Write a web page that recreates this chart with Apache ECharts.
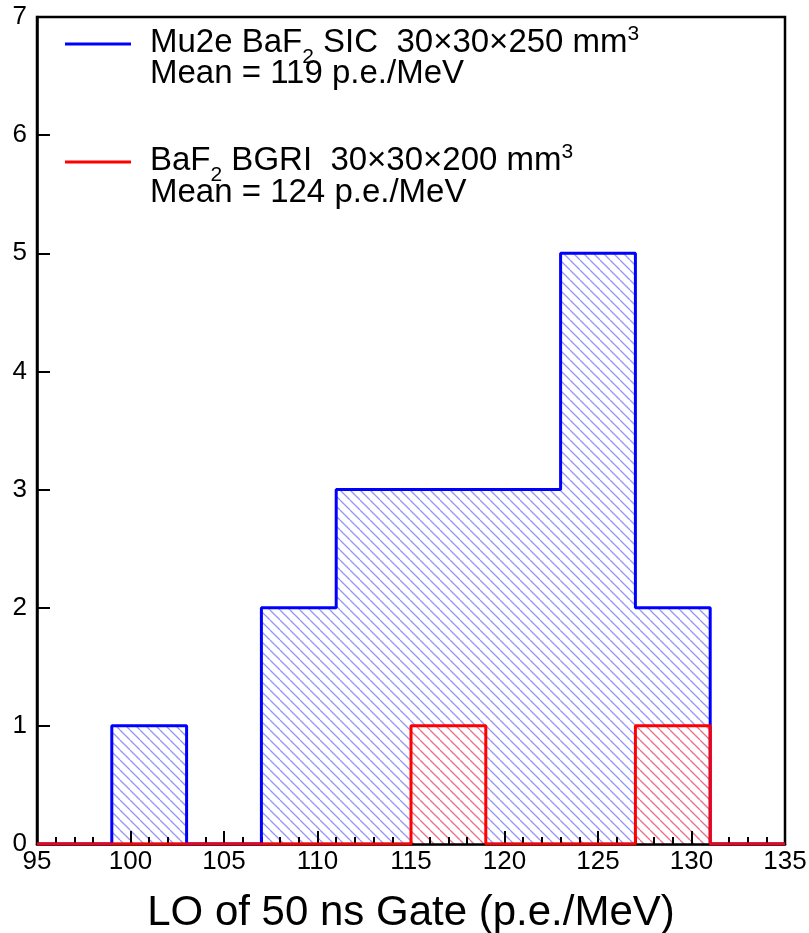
<!DOCTYPE html>
<html>
<head>
<meta charset="utf-8">
<script src="https://cdn.jsdelivr.net/npm/echarts@6/dist/echarts.min.js"></script>
<style>
html,body{margin:0;padding:0;background:#fff;}
#chart{width:809px;height:933px;}
</style>
</head>
<body>
<div id="chart"></div>
<script>
// ---- data ----
const binEdges = [95, 99, 103, 107, 111, 115, 119, 123, 127, 131, 135];
const sicCounts = [0, 1, 0, 2, 3, 3, 3, 5, 2, 0];
const bgriCounts = [0, 0, 0, 0, 0, 1, 0, 0, 1, 0];
const xTicks = [95, 100, 105, 110, 115, 120, 125, 130, 135];
const yTicks = [0, 1, 2, 3, 4, 5, 6, 7];
const xTitle = 'LO of 50 ns Gate (p.e./MeV)';
const sicLabel = ['Mu2e BaF', '2', ' SIC  30×30×250 mm', '3'];
const sicMean = 'Mean = 119 p.e./MeV';
const bgriLabel = ['BaF', '2', ' BGRI  30×30×200 mm', '3'];
const bgriMean = 'Mean = 124 p.e./MeV';

// ---- helpers ----
const FONT_NAME = 'Liberation Sans';
const FONT = '"Liberation Sans", Arial, sans-serif';
const TICK_FS = 26;
function makeHatch(color, bg) {
  const s = 10;
  const c = document.createElement('canvas');
  c.width = s; c.height = s;
  const ctx = c.getContext('2d');
  if (bg) { ctx.fillStyle = bg; ctx.fillRect(0, 0, s, s); }
  ctx.strokeStyle = color;
  ctx.lineWidth = 1.3;
  for (const k of [-s, 0, s]) {
    ctx.beginPath();
    ctx.moveTo(k, 0);
    ctx.lineTo(k + s, s);
    ctx.stroke();
  }
  return c;
}
function barsData(counts) {
  const out = [];
  counts.forEach((c, i) => { if (c > 0) out.push([binEdges[i], binEdges[i + 1], c]); });
  return out;
}
function stepData(counts) {
  const out = [];
  counts.forEach((c, i) => { out.push([binEdges[i], c]); out.push([binEdges[i + 1], c]); });
  return out;
}
function hatchSeries(counts, pattern, z) {
  return {
    type: 'custom', z: z, silent: true,
    data: barsData(counts),
    encode: { x: [0, 1], y: 2 },
    renderItem: function (params, api) {
      const p0 = api.coord([api.value(0), api.value(2)]);
      const p1 = api.coord([api.value(1), 0]);
      return {
        type: 'rect',
        shape: { x: p0[0], y: p0[1], width: p1[0] - p0[0], height: p1[1] - p0[1] },
        style: { fill: { image: pattern, repeat: 'repeat' } }
      };
    }
  };
}

const blueHatch = makeHatch('rgba(80,80,240,0.6)', null);
const redHatch = makeHatch('rgba(225,50,90,0.7)', '#ffffff');

const measureCtx = document.createElement('canvas').getContext('2d');
function textW(t, size) {
  measureCtx.font = size + 'px "' + FONT_NAME + '"';
  return measureCtx.measureText(t).width;
}
const MAIN = 33, SMALL = 21;
function labelGraphics(parts, x, yc) {
  const els = [];
  let cx = x;
  const spec = [
    [parts[0], MAIN, 0],
    [parts[1], SMALL, 14],
    [parts[2], MAIN, 0],
    [parts[3], SMALL, -9]
  ];
  spec.forEach(([t, size, dy]) => {
    els.push({ type: 'text', x: cx, y: yc + dy, z: 20,
      style: { text: t, fontSize: size, fontFamily: FONT, fill: '#000', verticalAlign: 'middle', align: 'left' } });
    cx += textW(t, size);
  });
  return els;
}
function plainText(t, x, yc) {
  return { type: 'text', x: x, y: yc, z: 20,
    style: { text: t, fontSize: MAIN, fontFamily: FONT, fill: '#000', verticalAlign: 'middle', align: 'left' } };
}
const tickRich = { t: { fontSize: TICK_FS, fontFamily: FONT, color: '#000', lineHeight: TICK_FS } };

const chart = echarts.init(document.getElementById('chart'), null, { renderer: 'canvas' });
chart.setOption({
  animation: false,
  backgroundColor: '#fff',
  textStyle: { fontFamily: FONT },
  grid: { left: 37, right: 24, top: 17, bottom: 89, containLabel: false, outerBoundsMode: 'none',
    show: true, borderColor: '#000', borderWidth: 2.5, backgroundColor: 'transparent' },
  xAxis: {
    type: 'value', min: xTicks[0], max: xTicks[xTicks.length - 1], interval: 5, z: 5,
    name: xTitle, nameLocation: 'middle', nameGap: 48,
    nameTextStyle: { fontSize: 42, fontFamily: FONT, color: '#000' },
    axisLine: { show: true, lineStyle: { color: '#000', width: 2.5 } },
    axisTick: { show: true, inside: true, length: 13, lineStyle: { color: '#000', width: 2 } },
    minorTick: { show: true, splitNumber: 5, length: 7, lineStyle: { color: '#000', width: 2 } },
    axisLabel: { formatter: '{t|{value}}', rich: tickRich, fontSize: TICK_FS, margin: 5, showMinLabel: true, showMaxLabel: true, hideOverlap: false },
    splitLine: { show: false }
  },
  yAxis: {
    type: 'value', min: yTicks[0], max: yTicks[yTicks.length - 1], interval: 1, z: 5,
    axisLine: { show: true, lineStyle: { color: '#000', width: 2.5 } },
    axisTick: { show: true, inside: true, length: 13, lineStyle: { color: '#000', width: 2 } },
    axisLabel: { formatter: '{t|{value}}', rich: tickRich, fontSize: TICK_FS, margin: 10, hideOverlap: false },
    splitLine: { show: false }
  },
  series: [
    hatchSeries(sicCounts, blueHatch, 2),
    hatchSeries(bgriCounts, redHatch, 3),
    { type: 'line', z: 10, data: stepData(sicCounts), showSymbol: false, symbol: 'none',
      lineStyle: { color: '#0000ff', width: 3 }, silent: true },
    { type: 'line', z: 11, data: stepData(bgriCounts), showSymbol: false, symbol: 'none',
      lineStyle: { color: '#ff0000', width: 3 }, silent: true }
  ],
  graphic: [
    { type: 'line', shape: { x1: 65, y1: 44, x2: 131, y2: 44 }, style: { stroke: '#0000ff', lineWidth: 3 }, z: 20 },
    ...labelGraphics(sicLabel, 150, 43),
    plainText(sicMean, 150, 74),
    { type: 'line', shape: { x1: 65, y1: 162, x2: 131, y2: 162 }, style: { stroke: '#ff0000', lineWidth: 3 }, z: 20 },
    ...labelGraphics(bgriLabel, 150, 161),
    plainText(bgriMean, 150, 193)
  ]
});
</script>
</body>
</html>
